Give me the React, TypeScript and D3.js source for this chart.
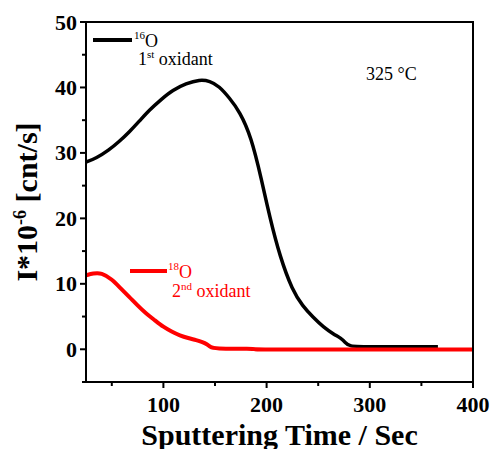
import React from "react";
import * as d3 from "d3";

const blackX = [25, 35, 47, 57, 67, 77, 86, 98, 109, 122, 135, 145, 154, 164, 174, 185, 195, 203, 213, 225, 235, 245, 255, 265, 272, 276, 279, 300, 366];
const blackY = [28.6, 29.2, 30.4, 31.7, 33.2, 34.9, 36.5, 38.2, 39.6, 40.6, 41.2, 41.0, 40.2, 38.4, 36.3, 32.5, 26.0, 20.2, 14.1, 9.0, 6.6, 4.9, 3.4, 2.3, 1.7, 1.1, 0.4, 0.4, 0.4];
const redX = [25, 32, 40, 50, 58, 67, 75, 83, 92, 100, 108, 116, 124, 132, 138, 142, 146, 148, 187, 189, 190, 400];
const redY = [11.3, 11.6, 11.7, 10.7, 9.4, 8.0, 6.7, 5.5, 4.4, 3.4, 2.7, 2.1, 1.7, 1.4, 1.1, 0.8, 0.3, 0.1, 0.1, 0.0, -0.05, -0.05];
const xTicks = [100, 200, 300, 400];
const xMinor = [50, 150, 250, 350];
const yTicks = [0, 10, 20, 30, 40, 50];
const yMinor = [-5, 5, 15, 25, 35, 45];

const W = 491, H = 449;
const L = 86, R = 473, T = 22, B = 382;
const serif = "'Liberation Serif', 'Times New Roman', serif";

export default function App() {
  const x = d3.scaleLinear().domain([25, 400]).range([L, R]);
  const y = d3.scaleLinear().domain([-5, 50]).range([B, T]);
  const line = d3
    .line<[number, number]>()
    .x((d) => x(d[0]))
    .y((d) => y(d[1]))
    .curve(d3.curveBasis);
  const black = blackX.map((v, i) => [v, blackY[i]] as [number, number]);
  const red = redX.map((v, i) => [v, redY[i]] as [number, number]);

  return (
    <svg width={W} height={H} style={{ position: "absolute", left: 0, top: 0, background: "#fff" }} fontFamily={serif}>
      <defs>
        <clipPath id="plot">
          <rect x={L} y={T} width={R - L} height={B - T} />
        </clipPath>
      </defs>
      <g clipPath="url(#plot)">
        <path d={line(black) || ""} fill="none" stroke="#000" strokeWidth={3.5} strokeLinejoin="round" />
        <path d={line(red) || ""} fill="none" stroke="#ff0000" strokeWidth={4} strokeLinejoin="round" />
      </g>
      <rect x={L} y={T} width={R - L} height={B - T} fill="none" stroke="#000" strokeWidth={2} />
      {xTicks.map((t) => (
        <g key={"xt" + t}>
          <line x1={x(t)} x2={x(t)} y1={B} y2={B + 6} stroke="#000" strokeWidth={2} />
          <text x={x(t)} y={B + 30} textAnchor="middle" fontSize={22} fontWeight="bold">{t}</text>
        </g>
      ))}
      {xMinor.map((t) => (
        <line key={"xm" + t} x1={x(t)} x2={x(t)} y1={B} y2={B + 4} stroke="#000" strokeWidth={2} />
      ))}
      {yTicks.map((t) => (
        <g key={"yt" + t}>
          <line x1={L - 6} x2={L} y1={y(t)} y2={y(t)} stroke="#000" strokeWidth={2} />
          <text x={L - 9} y={y(t) + 7.5} textAnchor="end" fontSize={22} fontWeight="bold">{t}</text>
        </g>
      ))}
      {yMinor.map((t) => (
        <line key={"ym" + t} x1={L - 4} x2={L} y1={y(t)} y2={y(t)} stroke="#000" strokeWidth={2} />
      ))}
      <text x={(L + R) / 2} y={445} textAnchor="middle" fontSize={30} fontWeight="bold">Sputtering Time / Sec</text>
      <text transform={`translate(37, 202) rotate(-90)`} textAnchor="middle" fontSize={30} fontWeight="bold">
        I*10<tspan dy={-11} fontSize={18}>-6</tspan><tspan dy={11}> [cnt/s]</tspan>
      </text>
      <line x1={93} x2={132} y1={40} y2={40} stroke="#000" strokeWidth={4} />
      <text x={134} y={47} fontSize={18}>
        <tspan dy={-8} fontSize={11}>16</tspan><tspan dy={8}>O</tspan>
      </text>
      <text x={138} y={65} fontSize={18}>
        1<tspan dy={-7} fontSize={11}>st</tspan><tspan dy={7}> oxidant</tspan>
      </text>
      <line x1={130} x2={167} y1={271} y2={271} stroke="#ff0000" strokeWidth={4} />
      <text x={168} y={278} fontSize={18} fill="#ff0000">
        <tspan dy={-8} fontSize={11}>18</tspan><tspan dy={8}>O</tspan>
      </text>
      <text x={172} y={297} fontSize={18} fill="#ff0000">
        2<tspan dy={-7} fontSize={11}>nd</tspan><tspan dy={7}> oxidant</tspan>
      </text>
      <text x={366} y={80} fontSize={18}>325 °C</text>
    </svg>
  );
}
